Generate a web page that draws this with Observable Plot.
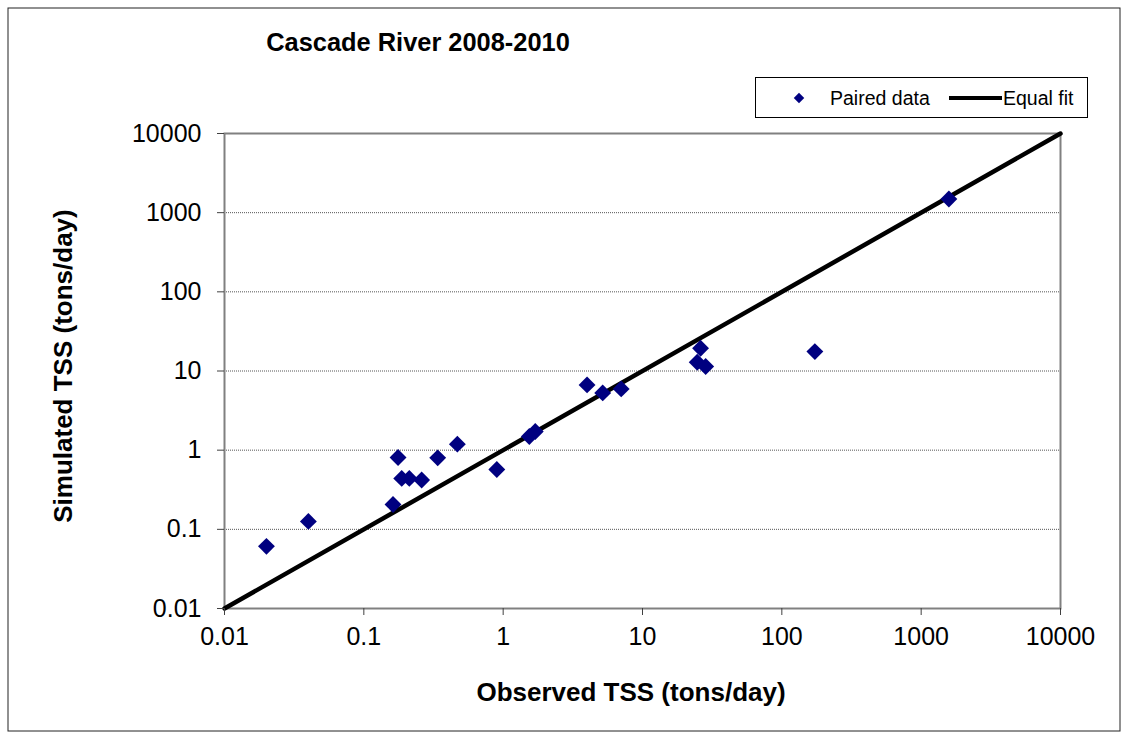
<!DOCTYPE html>
<html>
<head>
<meta charset="utf-8">
<script src="https://cdn.jsdelivr.net/npm/d3@7"></script>
<script src="https://cdn.jsdelivr.net/npm/@observablehq/plot@0.6"></script>
<style>
  html, body { margin: 0; padding: 0; background: white; }
</style>
</head>
<body>
<div id="chart"></div>
<script>
const titleText = "Cascade River 2008-2010";
const xLabel = "Observed TSS (tons/day)";
const yLabel = "Simulated TSS (tons/day)";
const seriesPaired = "Paired data";
const seriesEqual = "Equal fit";

const observed  = [0.020, 0.040, 0.162, 0.176, 0.187, 0.212, 0.260, 0.339, 0.469, 0.90, 1.54, 1.70, 4.0, 5.18, 7.03, 26.1, 24.7, 28.4, 172.6, 1581];
const simulated = [0.061, 0.126, 0.206, 0.807, 0.44, 0.44, 0.42, 0.80, 1.19, 0.57, 1.49, 1.72, 6.67, 5.29, 5.94, 19.4, 12.9, 11.4, 17.6, 1490];

const equalFit = [0.01, 10000];
const tickValues = [0.01, 0.1, 1, 10, 100, 1000, 10000];
const gridValues = [0.1, 1, 10, 100, 1000];

const paired = observed.map((o, i) => ({obs: o, sim: simulated[i]}));
const fitLine = equalFit.map(v => ({obs: v, sim: v}));
const fmt = d => String(d);

const W = 1129, H = 739;
const plot = Plot.plot({
  width: W, height: H,
  marginLeft: 224, marginRight: 69, marginTop: 133, marginBottom: 131,
  style: {fontFamily: "Arial, 'Liberation Sans', sans-serif", fontSize: "25px", color: "black", background: "white"},
  x: {type: "log", domain: [0.01, 10000]},
  y: {type: "log", domain: [0.01, 10000]},
  marks: [
    Plot.ruleY(gridValues, {stroke: "#555", strokeDasharray: "1,1", strokeWidth: 1}),
    Plot.frame({stroke: "#808080", strokeWidth: 2}),
    Plot.line(fitLine, {x: "obs", y: "sim", stroke: "black", strokeWidth: 4.5}),
    Plot.dot(paired, {x: "obs", y: "sim", symbol: "diamond2", r: 7.6, fill: "#000080", stroke: "none"}),
    Plot.axisX({ticks: tickValues, tickFormat: fmt, tickSize: 7, tickPadding: 12, label: null, stroke: "#404040"}),
    Plot.axisY({ticks: tickValues, tickFormat: fmt, tickSize: 7, tickPadding: 16, label: null, stroke: "#404040"})
  ]
});

const svg = d3.select(plot);
const ff = "Arial, 'Liberation Sans', sans-serif";

// outer border
svg.append("rect").attr("x", 8).attr("y", 8).attr("width", 1112).attr("height", 723)
  .attr("fill", "none").attr("stroke", "#222").attr("stroke-width", 1);

// title
svg.append("text").attr("x", 418).attr("y", 51).attr("text-anchor", "middle")
  .attr("font-family", ff).attr("font-weight", "bold").attr("font-size", 25.4).attr("fill", "black")
  .text(titleText);

// axis titles
svg.append("text").attr("x", 631).attr("y", 701).attr("text-anchor", "middle")
  .attr("font-family", ff).attr("font-weight", "bold").attr("font-size", 26).attr("fill", "black")
  .text(xLabel);
svg.append("text").attr("transform", "translate(72,366) rotate(-90)").attr("text-anchor", "middle")
  .attr("font-family", ff).attr("font-weight", "bold").attr("font-size", 26).attr("fill", "black")
  .text(yLabel);

// legend
const lg = svg.append("g");
lg.append("rect").attr("x", 755.5).attr("y", 77.5).attr("width", 332).attr("height", 40)
  .attr("fill", "white").attr("stroke", "black").attr("stroke-width", 1);
lg.append("path").attr("d", d3.symbol(d3.symbolDiamond2, 70)()).attr("transform", "translate(799,98)")
  .attr("fill", "#000080");
lg.append("text").attr("x", 830).attr("y", 105).attr("text-anchor", "start").attr("font-family", ff).attr("font-size", 19.5)
  .attr("fill", "black").text(seriesPaired);
lg.append("line").attr("x1", 949).attr("x2", 1002).attr("y1", 98).attr("y2", 98)
  .attr("stroke", "black").attr("stroke-width", 4);
lg.append("text").attr("x", 1003).attr("y", 105).attr("text-anchor", "start").attr("font-family", ff).attr("font-size", 19.5)
  .attr("fill", "black").text(seriesEqual);

document.getElementById("chart").appendChild(plot);
</script>
</body>
</html>
